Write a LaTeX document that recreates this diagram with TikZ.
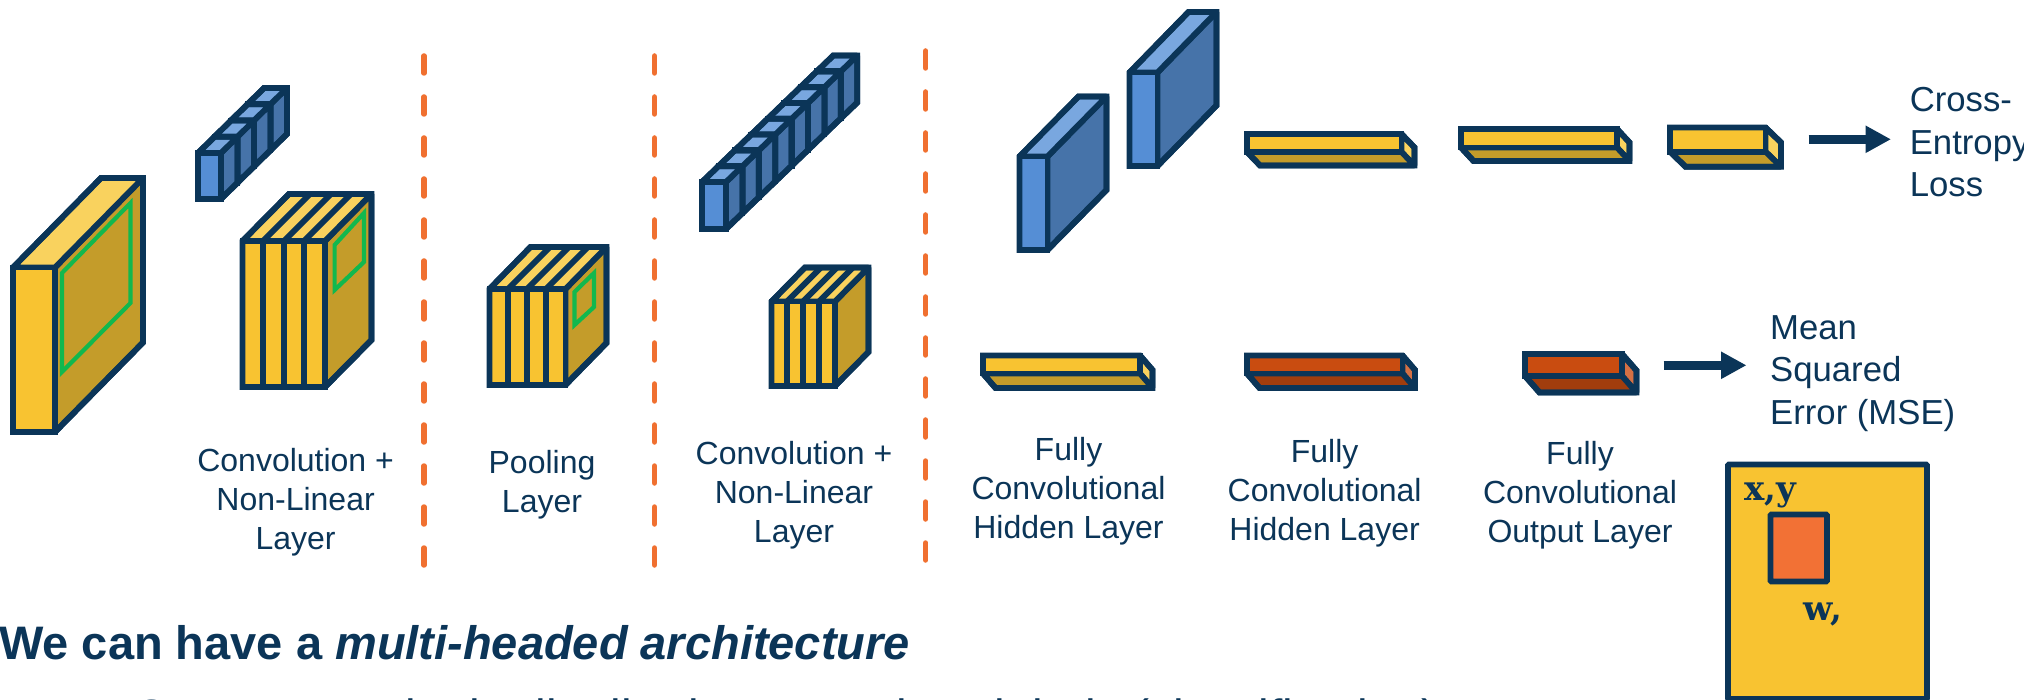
\documentclass[tikz,border=0pt]{standalone}
\usepackage{fontspec}
\setmainfont{Liberation Sans}
\newfontfamily\slabfont{DejaVu Serif}
\usetikzlibrary{arrows.meta}
\definecolor{navy}{HTML}{0B3558}
\definecolor{yfront}{HTML}{F8C331}
\definecolor{ytop}{HTML}{F9D25E}
\definecolor{yside}{HTML}{C49C2A}
\definecolor{bfront}{HTML}{558ED5}
\definecolor{btop}{HTML}{79A7DF}
\definecolor{bside}{HTML}{4673A9}
\definecolor{rfront}{HTML}{C94C10}
\definecolor{rbottom}{HTML}{A13D0D}
\definecolor{rside}{HTML}{D57044}
\definecolor{grn}{HTML}{12B84E}
\definecolor{dashorange}{HTML}{F07030}
\definecolor{boxorange}{HTML}{F27135}
\tikzset{
  edge/.style={draw=navy,line width=5.8pt,line join=miter,miter limit=1.5},
  outline/.style={draw=navy,line width=5.8pt,line join=miter,miter limit=10},
  window/.style={draw=grn,line width=4.2pt,line join=miter,miter limit=3},
  separator/.style={draw=dashorange,line width=5.5pt,line cap=round,dash pattern=on 17pt off 24pt},
  layerlabel/.style={text=navy,inner sep=0pt,align=center,font=\fontsize{32}{39}\selectfont},
  losslabel/.style={text=navy,inner sep=0pt,align=left,anchor=west,font=\fontsize{34.7}{42.5}\selectfont},
  blockarrow/.style={draw=navy,line width=9.3pt,-{Triangle[length=25.5pt,width=25.7pt]}},
  headline/.style={text=navy,inner sep=0pt,anchor=base west,font=\fontsize{47}{56}\selectfont\bfseries},
  subline/.style={text=navy,inner sep=0pt,anchor=base west,font=\fontsize{48}{56}\selectfont},
  mathlabel/.style={text=navy,inner sep=0pt,font=\fontsize{34}{40}\slabfont\bfseries},
}
% x1 y1 x2 y2 dx dy front top side : box seen from above
\newcommand{\cuboid}[9]{%
  \draw[edge,fill=#9] ({#3},{#2}) -- ({#3+#5},{#2-#6}) -- ({#3+#5},{#4-#6}) -- ({#3},{#4}) -- cycle;
  \draw[edge,fill=#8] ({#1},{#2}) -- ({#1+#5},{#2-#6}) -- ({#3+#5},{#2-#6}) -- ({#3},{#2}) -- cycle;
  \draw[edge,fill=#7] ({#1},{#2}) rectangle ({#3},{#4});
  \draw[outline] ({#1},{#2}) -- ({#1+#5},{#2-#6}) -- ({#3+#5},{#2-#6}) -- ({#3+#5},{#4-#6}) -- ({#3},{#4}) -- ({#1},{#4}) -- cycle;
}
% x1 y1 x2 y2 dx dy front bottom side : box seen from below
\newcommand{\underbox}[9]{%
  \draw[edge,fill=#9] ({#3},{#2}) -- ({#3+#5},{#2+#6}) -- ({#3+#5},{#4+#6}) -- ({#3},{#4}) -- cycle;
  \draw[edge,fill=#8] ({#1},{#4}) -- ({#1+#5},{#4+#6}) -- ({#3+#5},{#4+#6}) -- ({#3},{#4}) -- cycle;
  \draw[edge,fill=#7] ({#1},{#2}) rectangle ({#3},{#4});
  \draw[outline] ({#1},{#2}) -- ({#3},{#2}) -- ({#3+#5},{#2+#6}) -- ({#3+#5},{#4+#6}) -- ({#1+#5},{#4+#6}) -- ({#1},{#4}) -- cycle;
}
% slices: x1 y1 y2 dx, list of dividers
\newcommand{\dividers}[5]{%
  \foreach \q in {#5} {
    \draw[edge] (\q,#2) -- (\q,#3);
    \draw[edge] (\q,#2) -- ({\q+#4},{#2-#4});
  }
}
\begin{document}
\begin{tikzpicture}[x=1pt,y=-1pt]
\useasboundingbox (0,0) rectangle (2024,700);

% separators
\draw[separator] (424,56) -- (424,568);
\draw[separator] (654.5,56) -- (654.5,568);
\draw[separator] (925.7,51) -- (925.7,563);

% big input block
\cuboid{13}{267.5}{55}{432}{88}{89.5}{yfront}{ytop}{yside}
\draw[window] (62,273) -- (130.5,203) -- (130.5,303) -- (62,372) -- cycle;

% small blue stack 1
\foreach \k in {3,2,1,0} {
  \cuboid{198+16.5*\k}{153-16.25*\k}{221+16.5*\k}{199-16.25*\k}{16.5}{16.25}{bfront}{btop}{bside}
}

% striped block 1
\cuboid{242.5}{241}{325}{387}{46.5}{47}{yfront}{ytop}{yside}
\dividers{242.5}{241}{387}{46.5}{263,284,304}
\draw[window] (334.6,245) -- (364,213) -- (364,262) -- (334.6,290) -- cycle;

% pooling block
\cuboid{489.5}{289}{565.5}{385}{41}{42}{yfront}{ytop}{yside}
\dividers{489.5}{289}{385}{41}{508,527,546}
\draw[window] (574.5,292) -- (594,273) -- (594,307) -- (574.5,325) -- cycle;

% long blue stack
\foreach \k in {7,6,5,4,3,2,1,0} {
  \cuboid{702+16.4*\k}{182-15.8*\k}{726+16.4*\k}{229-15.8*\k}{16.4}{15.8}{bfront}{btop}{bside}
}

% small striped block
\cuboid{771.5}{301.5}{835}{386}{33.5}{34}{yfront}{ytop}{yside}
\dividers{771.5}{301.5}{386}{33.5}{787,803,819}

% blue panels
\cuboid{1019.5}{156.5}{1047.5}{250}{59}{60}{bfront}{btop}{bside}
\cuboid{1129.5}{72.5}{1157.5}{166}{59}{60.5}{bfront}{btop}{bside}

% flat layers, upper row
\underbox{1247}{134}{1401.5}{152}{13}{13.5}{yfront}{yside}{ytop}
\underbox{1461}{129}{1617}{147.5}{12.5}{13.5}{yfront}{yside}{ytop}
\underbox{1670}{127.5}{1765.5}{151.7}{15.5}{15}{yfront}{yside}{ytop}

% flat layers, lower row
\underbox{983}{355.5}{1140}{373.5}{12.5}{14.5}{yfront}{yside}{ytop}
\underbox{1247}{355.5}{1402.5}{373.5}{12.5}{14.5}{rfront}{rbottom}{rside}
\underbox{1525}{354}{1622}{376}{14.5}{16.5}{rfront}{rbottom}{rside}

% loss arrows
\coordinate (ceStart) at (1808.6,139.3);
\coordinate (ceEnd) at (1891,139.3);
\coordinate (mseStart) at (1663.6,365.3);
\coordinate (mseEnd) at (1746.5,365.3);
\draw[blockarrow] (ceStart) -- (ceEnd);
\draw[blockarrow] (mseStart) -- (mseEnd);

% labels
\node[layerlabel] (lab1) at (295.6,502.5) {Convolution +\\Non-Linear\\Layer};
\node[layerlabel] (lab2) at (542,484.5) {Pooling\\Layer};
\node[layerlabel] (lab3) at (794,495) {Convolution +\\Non-Linear\\Layer};
\node[layerlabel] (lab4) at (1068.5,491) {Fully\\Convolutional\\Hidden Layer};
\node[layerlabel] (lab5) at (1324.6,493) {Fully\\Convolutional\\Hidden Layer};
\node[layerlabel] (lab6) at (1580,495) {Fully\\Convolutional\\Output Layer};
\node[losslabel] (celoss) at (1909.6,142.5) {Cross-\\Entropy\\Loss};
\node[losslabel] (mseloss) at (1770,373.5) {Mean\\Squared\\Error (MSE)};

% output grid
\draw[edge,fill=yfront,rounded corners=1pt] (1728,464.5) rectangle (1927,699);
\node[mathlabel] (xy) at (1770,495) {x,y};
\draw[edge,fill=boxorange,rounded corners=1pt] (1770.5,514.5) rectangle (1827,581.5);
\node[mathlabel] (w) at (1823,614) {w,};

% text
\node[headline] (head) at (-1,659) {We can have a \textit{multi-headed architecture}};
\node[subline] (sub) at (133,733) {Compute a single distribution over class labels (classification)};
\end{tikzpicture}
\end{document}
